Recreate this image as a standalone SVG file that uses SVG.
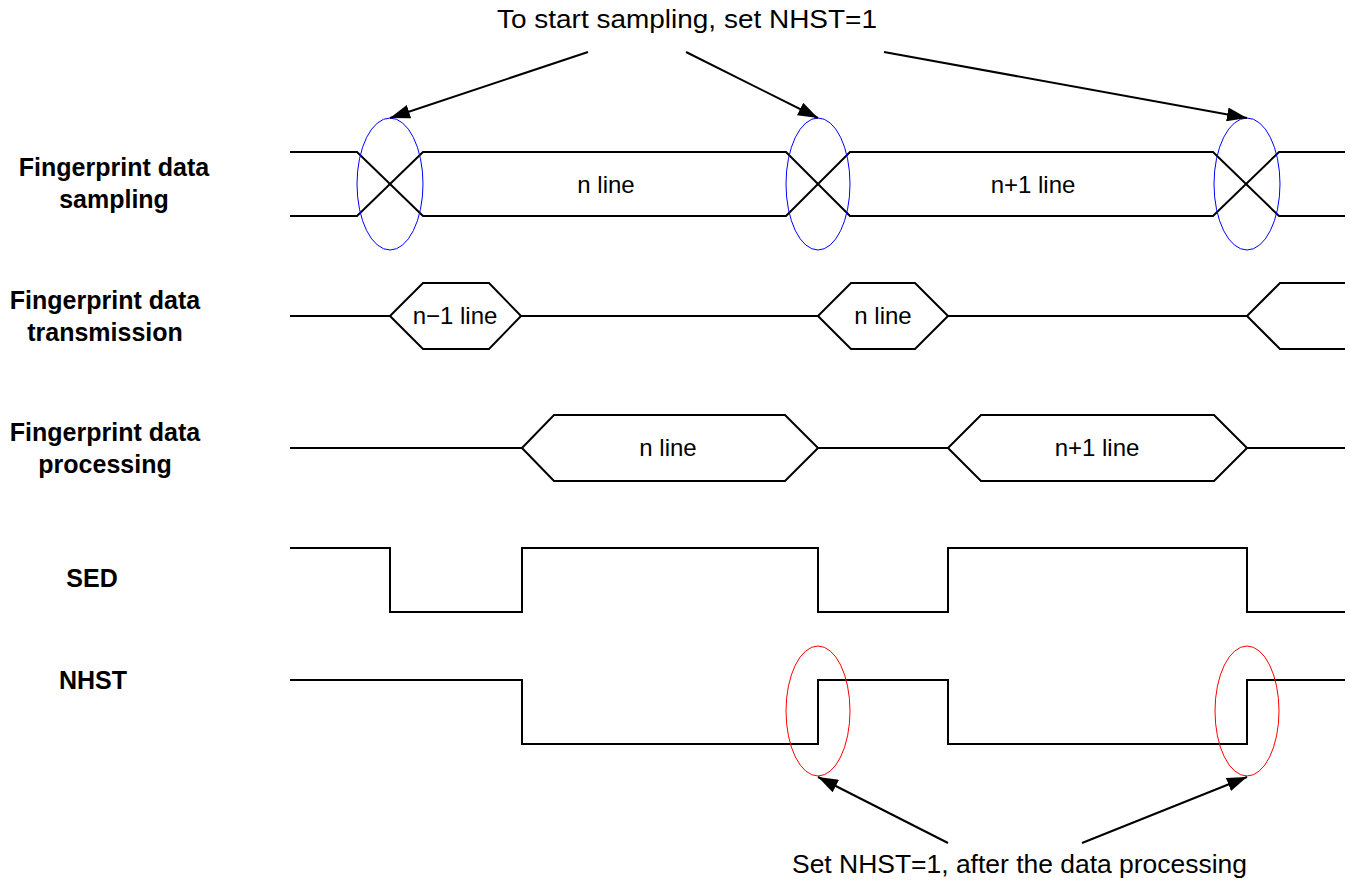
<svg xmlns="http://www.w3.org/2000/svg" width="1350" height="885" viewBox="0 0 1350 885">
  <style>
    .wave { fill: none; stroke: #000; stroke-width: 2; stroke-linejoin: miter; }
    .lbl { font-family: "Liberation Sans", Arial, sans-serif; font-weight: bold; font-size: 25px; fill: #000; text-anchor: middle; }
    .val { font-family: "Liberation Sans", Arial, sans-serif; font-size: 24px; fill: #000; text-anchor: middle; }
    .note { font-family: "Liberation Sans", Arial, sans-serif; font-size: 26px; fill: #000; }
    .ring-b { fill: none; stroke: #0000ff; stroke-width: 1; }
    .ring-r { fill: none; stroke: #ff0000; stroke-width: 1; }
    .arrow { fill: none; stroke: #000; stroke-width: 2; marker-end: url(#head); }
  </style>
  <defs>
    <marker id="head" viewBox="0 0 20 14" refX="20" refY="7" markerWidth="20" markerHeight="14" markerUnits="userSpaceOnUse" orient="auto">
      <path d="M0,0 L20,7 L0,14 Z" fill="#000"/>
    </marker>
  </defs>
  <rect width="1350" height="885" fill="#fff"/>

  <!-- signal names -->
  <g id="label-sampling">
    <text class="lbl" x="114" y="176">Fingerprint data</text>
    <text class="lbl" x="114" y="208">sampling</text>
  </g>
  <g id="label-transmission">
    <text class="lbl" x="105" y="309">Fingerprint data</text>
    <text class="lbl" x="105" y="341">transmission</text>
  </g>
  <g id="label-processing">
    <text class="lbl" x="105" y="441">Fingerprint data</text>
    <text class="lbl" x="105" y="473">processing</text>
  </g>
  <g id="label-sed"><text class="lbl" x="92" y="587">SED</text></g>
  <g id="label-nhst"><text class="lbl" x="93" y="689">NHST</text></g>

  <!-- sampling bus -->
  <g id="wave-sampling">
    <path class="wave" d="M290,152 H357 L423,216 H786 L850,152 H1213 L1279,216 H1345"/>
    <path class="wave" d="M290,216 H357 L423,152 H786 L850,216 H1213 L1279,152 H1345"/>
    <text class="val" x="606" y="193">n line</text>
    <text class="val" x="1033" y="193">n+1 line</text>
  </g>

  <!-- transmission bus -->
  <g id="wave-transmission">
    <path class="wave" d="M290,316 H390 L423,283 H489 L521,316 H818 L851,283 H915 L948,316 H1247 L1280,283 H1345"/>
    <path class="wave" d="M390,316 L423,349 H489 L521,316"/>
    <path class="wave" d="M818,316 L851,349 H915 L948,316"/>
    <path class="wave" d="M1247,316 L1280,349 H1345"/>
    <text class="val" x="455" y="324">n−1 line</text>
    <text class="val" x="883" y="324">n line</text>
  </g>

  <!-- processing bus -->
  <g id="wave-processing">
    <path class="wave" d="M290,448 H522 L554,415 H785 L818,448 H948 L981,415 H1214 L1247,448 H1345"/>
    <path class="wave" d="M522,448 L554,481 H785 L818,448"/>
    <path class="wave" d="M948,448 L981,481 H1214 L1247,448"/>
    <text class="val" x="668" y="456">n line</text>
    <text class="val" x="1097" y="456">n+1 line</text>
  </g>

  <!-- SED -->
  <g id="wave-sed">
    <path class="wave" d="M290,548 H390 V612 H522 V548 H818 V612 H948 V548 H1247 V612 H1345"/>
  </g>

  <!-- NHST -->
  <g id="wave-nhst">
    <path class="wave" d="M290,680 H522 V744 H818 V680 H948 V744 H1247 V680 H1345"/>
  </g>

  <!-- highlight rings -->
  <g id="rings">
    <ellipse class="ring-b" cx="390" cy="184" rx="33" ry="66"/>
    <ellipse class="ring-b" cx="818" cy="184" rx="32" ry="66"/>
    <ellipse class="ring-b" cx="1247" cy="184" rx="33" ry="66"/>
    <ellipse class="ring-r" cx="818" cy="711" rx="32" ry="65"/>
    <ellipse class="ring-r" cx="1247" cy="711" rx="32" ry="65"/>
  </g>

  <!-- annotations -->
  <g id="note-start">
    <text class="note" x="497" y="28" textLength="380" lengthAdjust="spacingAndGlyphs">To start sampling, set NHST=1</text>
  </g>
  <g id="note-set">
    <text class="note" x="792" y="873" textLength="455" lengthAdjust="spacingAndGlyphs">Set NHST=1, after the data processing</text>
  </g>

  <!-- connectors -->
  <g id="connectors">
    <line class="arrow" x1="588" y1="52" x2="390" y2="118"/>
    <line class="arrow" x1="686" y1="52" x2="818" y2="118"/>
    <line class="arrow" x1="884" y1="52" x2="1247" y2="118"/>
    <line class="arrow" x1="948" y1="843" x2="818" y2="777"/>
    <line class="arrow" x1="1082" y1="843" x2="1247" y2="777"/>
  </g>
</svg>
